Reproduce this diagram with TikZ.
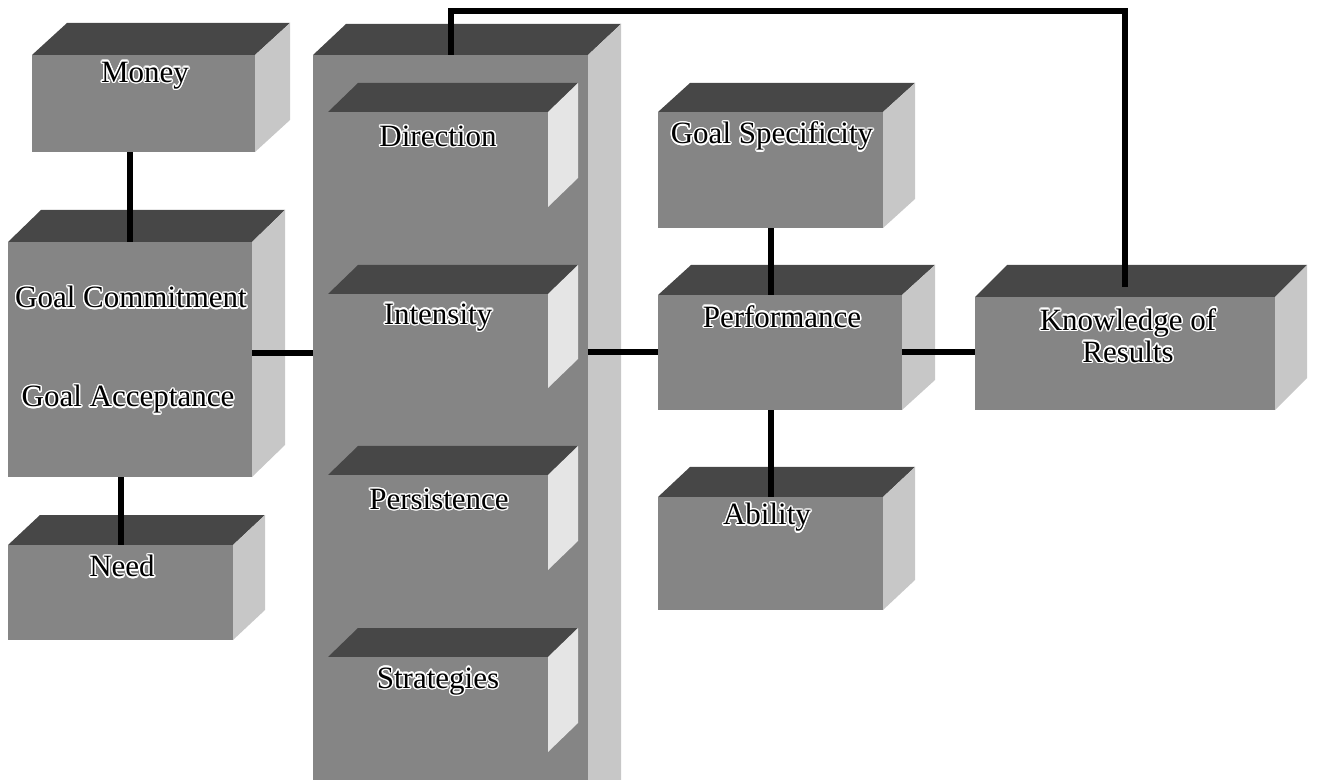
\documentclass[tikz,border=0pt]{standalone}
\usepackage{fontspec}
\setmainfont{Liberation Serif}
\usepackage{contour}
\contourlength{0.7pt}
\usetikzlibrary{fit}

\definecolor{frontgray}{gray}{0.52}
\definecolor{topgray}{gray}{0.28}
\definecolor{sidegray}{gray}{0.78}
\definecolor{innerside}{gray}{0.90}

\tikzset{
  frontface/.style={fill=frontgray},
  topface/.style={fill=topgray},
  lbl/.style={font=\fontsize{15.5}{16}\selectfont, text=black, align=center, inner sep=0pt},
  conn/.style={draw=black, line width=3pt, line join=miter, line cap=butt}
}

% A block drawn as a box seen from above right:
% #1 name, #2/#3 front top-left, #4/#5 front bottom-right, #6/#7 depth, #8 side colour
\newcommand\drawcube[8]{%
  \fill[topface] (#2,#3) -- (#2+#6,#3-#7) -- (#4+#6,#3-#7) -- (#4,#3) -- cycle;
  \fill[fill=#8] (#4,#3) -- (#4+#6,#3-#7) -- (#4+#6,#5-#7) -- (#4,#5) -- cycle;
  \fill[frontface] (#2,#3) rectangle (#4,#5);
  \node[fit={(#2,#3) (#4,#5)}, inner sep=0pt] (#1) {};
}

\begin{document}
\begin{tikzpicture}[x=0.5pt, y=-0.5pt]
  \useasboundingbox (0,0) rectangle (1317,780);

  % left group
  \drawcube{money}{32}{55}{255}{152}{35}{32}{sidegray}
  \drawcube{commit}{8}{242}{252}{477}{33}{32}{sidegray}
  \drawcube{need}{8}{545}{233}{640}{32}{30}{sidegray}

  % tall column with its four stacked blocks
  \drawcube{col}{313}{55}{588}{812}{33}{31}{sidegray}
  \drawcube{dir}{328}{112}{548}{207}{30}{29}{innerside}
  \drawcube{inten}{328}{294}{548}{388}{30}{29}{innerside}
  \drawcube{pers}{328}{475}{548}{570}{30}{29}{innerside}
  \drawcube{strat}{328}{657}{548}{752}{30}{29}{innerside}

  % right group
  \drawcube{spec}{658}{112}{883}{228}{32}{29}{sidegray}
  \drawcube{perf}{658}{295}{902}{410}{33}{30}{sidegray}
  \drawcube{abil}{658}{497}{883}{610}{32}{30}{sidegray}
  \drawcube{know}{975}{297}{1275}{410}{32}{32}{sidegray}

  % labels
  \node[lbl] (tmoney) at (145,76) {\contour{white}{Money}};
  \node[lbl] (tcommit) at (131,298) {\contour{white}{Goal Commitment}};
  \node[lbl] (taccept) at (128,400) {\contour{white}{Goal Acceptance}};
  \node[lbl] (tneed) at (122,567) {\contour{white}{Need}};
  \node[lbl] (tdir) at (438,137) {\contour{white}{Direction}};
  \node[lbl] (tinten) at (438,318) {\contour{white}{Intensity}};
  \node[lbl] (tpers) at (439,500) {\contour{white}{Persistence}};
  \node[lbl] (tstrat) at (438,682) {\contour{white}{Strategies}};
  \node[lbl] (tspec) at (772,137) {\contour{white}{Goal Specificity}};
  \node[lbl] (tperf) at (782,317) {\contour{white}{Performance}};
  \node[lbl] (tabil) at (767,518) {\contour{white}{Ability}};
  \node[lbl] (tknow) at (1128,336) {\contour{white}{Knowledge of}\\\contour{white}{Results}};

  % connectors
  \draw[conn] (commit.north) -- (commit.north |- money.south);
  \draw[conn] (need.north) -- (need.north |- commit.south);
  \draw[conn] (commit.east |- 0,353) -- (col.west |- 0,353);
  \draw[conn] (col.east |- perf.west) -- (perf.west);
  \draw[conn] (perf.east) -- (know.west |- perf.east);
  \draw[conn] (spec.south) -- (spec.south |- perf.north);
  \draw[conn] (abil.north) -- (abil.north |- perf.south);
  \coordinate (fbtop) at (0,11);
  \draw[conn, shorten >=5pt] (col.north) -- (col.north |- fbtop) -| (know.north);
\end{tikzpicture}
\end{document}
